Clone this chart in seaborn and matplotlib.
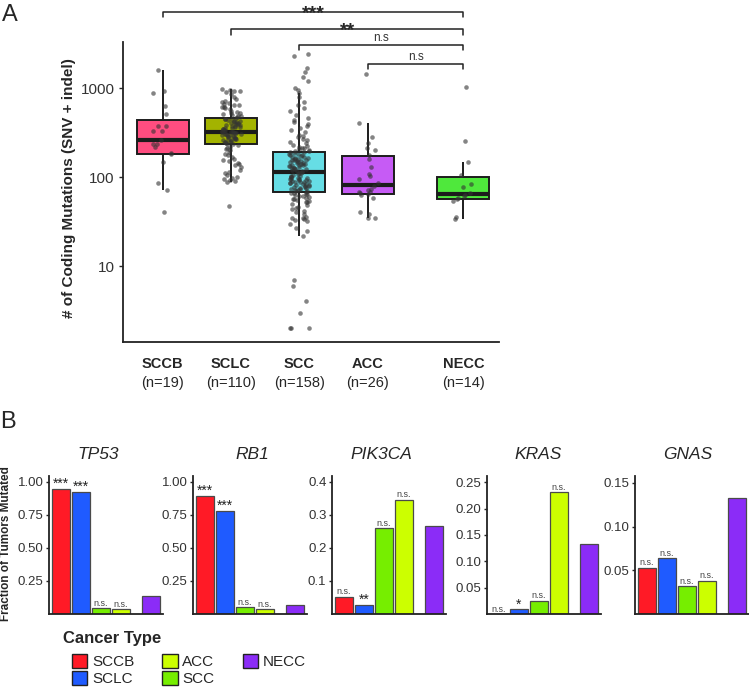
import numpy as np
import pandas as pd
import matplotlib
matplotlib.use("Agg")
import matplotlib.pyplot as plt
import matplotlib.patches as mpatches
import matplotlib.ticker as ticker
import seaborn as sns

# ---------------- panel A: coding mutations per tumour ----------------
types_a = ["SCCB", "SCLC", "SCC", "ACC", "NECC"]
n_a = [19, 110, 158, 26, 14]
sccb = [41, 72, 85, 147, 180, 185, 220, 235, 235, 261, 330, 330, 375, 375,
        510, 628, 880, 920, 1590]
sclc = [47, 88, 90, 92, 95, 98, 100, 105, 110, 115, 120, 130, 135, 140, 145,
        150, 155, 160, 170, 175, 180, 190, 200, 205, 210, 220, 228,
        235, 238, 240, 245, 248, 250, 255, 258, 260, 265, 268, 270, 275, 278,
        280, 285, 288, 290, 295, 298, 300, 302, 305, 308, 310, 312, 315, 318,
        322, 325, 330, 335, 340, 345, 350, 355, 360, 365, 370, 375, 380, 385,
        390, 395, 400, 405, 410, 415, 420, 425, 430, 438, 445, 450, 455,
        462, 470, 480, 490, 500, 510, 520, 530, 545, 560, 580, 600, 610, 620,
        640, 650, 660, 680, 700, 720, 750, 800, 850, 900, 920, 940, 950, 975]
scc = [2, 2, 2, 3, 4, 6, 7,
       22, 25, 27, 30, 32, 33, 34, 35, 35, 36, 38, 40, 42, 44, 45, 46, 48, 50,
       52, 53, 54, 55, 56, 57, 58, 60, 61, 62, 63, 64, 65, 66, 67,
       68, 69, 70, 71, 72, 73, 74, 75, 76, 77, 78, 79, 80, 81, 82, 83, 84, 85,
       86, 87, 88, 89, 90, 91, 92, 93, 94, 95, 96, 97, 98, 99, 100, 102, 104,
       106, 108, 110, 112,
       115, 116, 118, 120, 122, 124, 125, 126, 128, 130, 132, 134, 135, 136,
       138, 140, 142, 144, 145, 146, 148, 150, 152, 154, 155, 156, 158, 160,
       162, 165, 168, 170, 172, 175, 178, 180, 183, 186, 189,
       192, 195, 198, 200, 205, 210, 215, 220, 225, 230, 240, 250, 260, 270,
       280, 290, 300, 320, 340, 360, 380, 400, 420, 440, 460, 500, 550, 600,
       650, 700, 800, 880,
       950, 1000, 1200, 1350, 1500, 1700, 2300, 2400]
acc = [35, 35, 38, 40, 58, 63, 65, 66, 68, 68, 72, 73, 80, 85, 95, 103, 108,
       130, 160, 175, 200, 212, 240, 280, 405, 1450]
necc = [34, 36, 54, 57, 58, 62, 63, 66, 77, 84, 105, 149, 256, 1035]
counts_a = [sccb, sclc, scc, acc, necc]

# brackets: (from group, to group, label)
brackets = [("SCCB", "NECC", "***"), ("SCLC", "NECC", "**"),
            ("SCC", "NECC", "n.s"), ("ACC", "NECC", "n.s")]

# ---------------- panel B: fraction of tumours mutated ----------------
genes = ["TP53", "RB1", "PIK3CA", "KRAS", "GNAS"]
types_b = ["SCCB", "SCLC", "SCC", "ACC", "NECC"]
frac_tp53 = [0.947, 0.927, 0.044, 0.038, 0.133]
frac_rb1 = [0.895, 0.782, 0.051, 0.038, 0.067]
frac_pik3ca = [0.053, 0.027, 0.259, 0.346, 0.267]
frac_kras = [0.0, 0.009, 0.025, 0.231, 0.133]
frac_gnas = [0.053, 0.064, 0.032, 0.038, 0.133]
sig_tp53 = ["***", "***", "n.s.", "n.s.", ""]
sig_rb1 = ["***", "***", "n.s.", "n.s.", ""]
sig_pik3ca = ["n.s.", "**", "n.s.", "n.s.", ""]
sig_kras = ["n.s.", "*", "n.s.", "n.s.", ""]
sig_gnas = ["n.s.", "n.s.", "n.s.", "n.s.", ""]
fracs = [frac_tp53, frac_rb1, frac_pik3ca, frac_kras, frac_gnas]
sigs = [sig_tp53, sig_rb1, sig_pik3ca, sig_kras, sig_gnas]
yticks_b = [[0.25, 0.5, 0.75, 1.0], [0.25, 0.5, 0.75, 1.0],
            [0.1, 0.2, 0.3, 0.4], [0.05, 0.10, 0.15, 0.20, 0.25],
            [0.05, 0.10, 0.15]]
yfmt_b = ["%.2f", "%.2f", "%.1f", "%.2f", "%.2f"]
ytop_b = [1.045, 1.045, 0.418, 0.262, 0.158]
legend_order = ["SCCB", "SCLC", "ACC", "SCC", "NECC"]

# ---------------- style ----------------
box_colors = {"SCCB": "#FF4D80", "SCLC": "#A3B300", "SCC": "#66DDE5",
              "ACC": "#C65BF5", "NECC": "#4FE83C"}
bar_colors = {"SCCB": "#FF1A26", "SCLC": "#1F5BFF", "SCC": "#76EE00",
              "ACC": "#CCFF00", "NECC": "#8B2CF7"}
pos_a = [1, 2, 3, 4, 5.4]
pos_b = [1, 2, 3, 4, 5.5]

sns.set_style("ticks")
plt.rcParams["font.family"] = ["Liberation Sans", "DejaVu Sans"]
plt.rcParams["axes.edgecolor"] = "#222222"
np.random.seed(3)

W, H = 749, 687
fig = plt.figure(figsize=(W / 100, H / 100), dpi=100)


def fig_box(x0, y0, x1, y1):
    return [x0 / W, 1 - y1 / H, (x1 - x0) / W, (y1 - y0) / H]


# ---------------- draw panel A ----------------
rows = []
for t, p, vals in zip(types_a, pos_a, counts_a):
    for v in vals:
        rows.append({"type": t, "pos": p, "count": v})
df_a = pd.DataFrame(rows)

ax = fig.add_axes(fig_box(123, 42, 499, 342))
sns.boxplot(data=df_a, x="pos", y="count", hue="type", hue_order=types_a,
            palette=box_colors, saturation=1, native_scale=True,
            log_scale=(False, True), width=0.76, showcaps=False,
            showfliers=False, linewidth=1.4, linecolor="#1c1c1c",
            medianprops={"linewidth": 3}, legend=False, ax=ax)
sns.stripplot(data=df_a, x="pos", y="count", native_scale=True,
              log_scale=(False, True), jitter=0.15, color="#333333",
              alpha=0.6, size=3.3, linewidth=0, ax=ax)
ax.set_xlim(0.42, 5.92)
ax.set_ylim(1.4, 3300)
ax.yaxis.set_major_locator(ticker.FixedLocator([10, 100, 1000]))
ax.yaxis.set_minor_locator(ticker.NullLocator())
ax.set_yticklabels(["10", "100", "1000"], fontsize=11, color="#333333")
ax.set_xticks(pos_a)
ax.set_xticklabels(types_a, fontsize=10.5, fontweight="bold")
ax.tick_params(axis="x", length=0, pad=11)
ax.tick_params(axis="y", length=3, width=1, pad=3)
ax.set_xlabel("")
ax.set_ylabel("")
for p, n in zip(pos_a, n_a):
    ax.text(p, -0.137, f"(n={n})", transform=ax.get_xaxis_transform(),
            ha="center", va="center", fontsize=10.5)
for s in ("top", "right"):
    ax.spines[s].set_visible(False)
for s in ("left", "bottom"):
    ax.spines[s].set_linewidth(1.3)

trans = ax.get_xaxis_transform()
bracket_y = [1.10, 1.043, 0.99, 0.927]
for (g1, g2, lab), yb in zip(brackets, bracket_y):
    x1 = pos_a[types_a.index(g1)]
    x2 = pos_a[types_a.index(g2)]
    ax.plot([x1, x1, x2, x2], [yb - 0.018, yb, yb, yb - 0.018], color="#222222",
            lw=1.1, transform=trans, clip_on=False)
    if lab.startswith("*"):
        ax.text((x1 + x2) / 2, yb - 0.02, lab, transform=trans, ha="center",
                va="baseline", fontsize=14, fontweight="bold")
    else:
        ax.text((x1 + x2) / 2, yb + 0.004, lab, transform=trans, ha="center",
                va="bottom", fontsize=8.5, color="#333333")

fig.text(69 / W, 1 - 188 / H, "# of Coding Mutations (SNV + indel)",
         rotation=90, ha="center", va="center", fontsize=11, fontweight="bold")
fig.text(2 / W, 1 - 4 / H, "A", ha="left", va="top", fontsize=17)

# ---------------- draw panel B ----------------
fig.text(0 / W, 1 - 411 / H, "B", ha="left", va="top", fontsize=17)
lefts = [49, 193, 332, 487, 635]
title_x = [0.43, 0.52, 0.43, 0.45, 0.46]
for i, g in enumerate(genes):
    sub = pd.DataFrame({"type": types_b, "pos": pos_b, "frac": fracs[i]})
    axb = fig.add_axes(fig_box(lefts[i], 476, lefts[i] + 114, 614))
    sns.barplot(data=sub, x="pos", y="frac", hue="type", hue_order=types_b,
                palette=bar_colors, saturation=1, native_scale=True,
                width=0.9, errorbar=None, edgecolor="#4a4a4a", linewidth=0.9,
                legend=False, ax=axb)
    for p, v, s in zip(pos_b, fracs[i], sigs[i]):
        if not s:
            continue
        star = s.startswith("*")
        axb.annotate(s, (p, v), xytext=(0, -1.5 if star else 0.3),
                     textcoords="offset points", ha="center", va="bottom",
                     fontsize=10 if star else 6.5,
                     color="#222222" if star else "#444444")
    axb.set_xlim(0.4, 6.1)
    axb.set_ylim(0, ytop_b[i])
    axb.set_xticks([])
    axb.set_yticks(yticks_b[i])
    axb.yaxis.set_major_formatter(ticker.FormatStrFormatter(yfmt_b[i]))
    axb.tick_params(axis="y", length=2, width=1, pad=2, labelsize=9.5,
                    labelcolor="#333333")
    axb.set_xlabel("")
    axb.set_ylabel("")
    axb.set_title(g, fontsize=12.5, style="italic", x=title_x[i], pad=12)
    for s in ("top", "right"):
        axb.spines[s].set_visible(False)
    for s in ("left", "bottom"):
        axb.spines[s].set_linewidth(1.3)

fig.text(6 / W, 1 - 544 / H, "Fraction of Tumors Mutated", rotation=90,
         ha="center", va="center", fontsize=8.5, fontweight="bold")

fig.text(63 / W, 1 - 638 / H, "Cancer Type", ha="left", va="center",
         fontsize=12, fontweight="bold")
handles = [mpatches.Patch(facecolor=bar_colors[t], edgecolor="#222222",
                          linewidth=1, label=t) for t in legend_order]
leg = fig.legend(handles=handles, loc="upper left",
                 bbox_to_anchor=(72 / W, 1 - 654 / H), ncol=3, frameon=False,
                 fontsize=11, handlelength=1.0, handleheight=1.0,
                 handletextpad=0.3, labelspacing=0.12, columnspacing=1.85,
                 borderpad=0, borderaxespad=0)

fig.savefig("out.png", dpi=100)
